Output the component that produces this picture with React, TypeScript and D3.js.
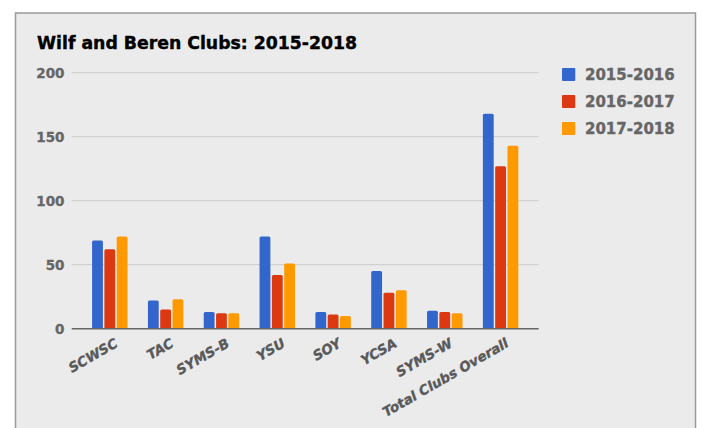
import React, { useEffect, useRef } from 'react';
import * as d3 from 'd3';

const clubs = ['SCWSC', 'TAC', 'SYMS-B', 'YSU', 'SOY', 'YCSA', 'SYMS-W', 'Total Clubs Overall'];
const seasons = ['2015-2016', '2016-2017', '2017-2018'];
const values2015 = [69, 22, 13, 72, 13, 45, 14, 168];
const values2016 = [62, 15, 12, 42, 11, 28, 13, 127];
const values2017 = [72, 23, 12, 51, 10, 30, 12, 143];
const yTicks = [0, 50, 100, 150, 200];
const colors = ['#3366cc', '#dc3912', '#ff9900'];

const App: React.FC = () => {
  const chartRef = useRef<SVGSVGElement>(null);

  useEffect(() => {
    document.body.style.margin = '0';
    if (!chartRef.current) return;

    // Clear previous chart
    d3.select(chartRef.current).selectAll('*').remove();

    const width = 702;
    const height = 428;
    const series = [values2015, values2016, values2017];

    const svg = d3.select(chartRef.current)
      .attr('width', width)
      .attr('height', height);

    svg.append('rect')
      .attr('width', width)
      .attr('height', height)
      .attr('fill', '#fff');

    // frame
    svg.append('rect')
      .attr('x', 15.5)
      .attr('y', 13)
      .attr('width', 680)
      .attr('height', 430)
      .attr('fill', '#ebebeb')
      .attr('stroke', '#9a9a9a')
      .attr('stroke-width', 1.5);

    svg.append('text')
      .attr('x', 37)
      .attr('y', 48.5)
      .style('font-family', 'DejaVu Sans')
      .style('font-weight', 'bold')
      .style('font-size', '17.3px')
      .attr('fill', '#000')
      .attr('stroke', '#000')
      .attr('stroke-width', 0.4)
      .text('Wilf and Beren Clubs: 2015-2018');

    const x = d3.scaleBand()
      .domain(clubs)
      .range([71.7, 538.7])
      .padding(0.365);

    const xs = d3.scaleBand()
      .domain(seasons)
      .range([0, x.bandwidth()])
      .paddingInner(0.12);

    const y = d3.scaleLinear()
      .domain([0, 200])
      .range([328.7, 72.7]);

    // gridlines
    svg.append('g')
      .selectAll('line')
      .data(yTicks.filter(t => t > 0))
      .enter().append('line')
      .attr('x1', 71.7)
      .attr('x2', 538.7)
      .attr('y1', d => y(d))
      .attr('y2', d => y(d))
      .attr('stroke', '#cccccc')
      .attr('stroke-width', 1);

    svg.append('g')
      .selectAll('text')
      .data(yTicks)
      .enter().append('text')
      .attr('x', 64.5)
      .attr('y', d => y(d))
      .attr('dy', '0.36em')
      .style('text-anchor', 'end')
      .style('font-family', 'DejaVu Sans')
      .style('font-weight', 'bold')
      .style('font-size', '13.5px')
      .attr('fill', '#666')
      .attr('stroke', '#666')
      .attr('stroke-width', 0.3)
      .text(d => String(d));

    // bars
    const groups = svg.append('g')
      .selectAll('g')
      .data(clubs)
      .enter().append('g')
      .attr('transform', d => `translate(${x(d)},0)`);

    groups.selectAll('path')
      .data((_, i) => series.map((s, k) => ({ season: seasons[k], value: s[i], k })))
      .enter().append('path')
      .attr('d', d => {
        const x0 = xs(d.season) || 0;
        const w = xs.bandwidth();
        const y0 = y(0);
        const y1 = y(d.value);
        const r = 1.5;
        return `M${x0},${y0}V${y1 + r}Q${x0},${y1} ${x0 + r},${y1}H${x0 + w - r}Q${x0 + w},${y1} ${x0 + w},${y1 + r}V${y0}Z`;
      })
      .attr('fill', d => colors[d.k]);

    // baseline
    svg.append('line')
      .attr('x1', 71.7)
      .attr('x2', 538.7)
      .attr('y1', y(0))
      .attr('y2', y(0))
      .attr('stroke', '#666')
      .attr('stroke-width', 1.5);

    // x labels
    svg.append('g')
      .selectAll('text')
      .data(clubs)
      .enter().append('text')
      .attr('transform', d => `translate(${(x(d) || 0) + x.bandwidth() / 2 + 9},346) rotate(-30)`)
      .style('text-anchor', 'end')
      .style('font-family', 'DejaVu Sans')
      .style('font-weight', 'bold')
      .style('font-style', 'italic')
      .style('font-size', '13.5px')
      .attr('fill', '#595959')
      .attr('stroke', '#595959')
      .attr('stroke-width', 0.35)
      .text(d => d);

    // legend
    const legend = svg.append('g')
      .selectAll('g')
      .data(seasons)
      .enter().append('g')
      .attr('transform', (_, i) => `translate(562,${68 + i * 27})`);

    legend.append('rect')
      .attr('width', 13.3)
      .attr('height', 13)
      .attr('rx', 1)
      .attr('fill', (_, i) => colors[i]);

    legend.append('text')
      .attr('x', 23)
      .attr('y', 11.5)
      .style('font-family', 'DejaVu Sans')
      .style('font-weight', 'bold')
      .style('font-size', '15px')
      .attr('fill', '#666')
      .attr('stroke', '#666')
      .attr('stroke-width', 0.35)
      .text(d => d);

  }, []);

  return <svg ref={chartRef} style={{ display: 'block' }}></svg>;
};

export default App;
